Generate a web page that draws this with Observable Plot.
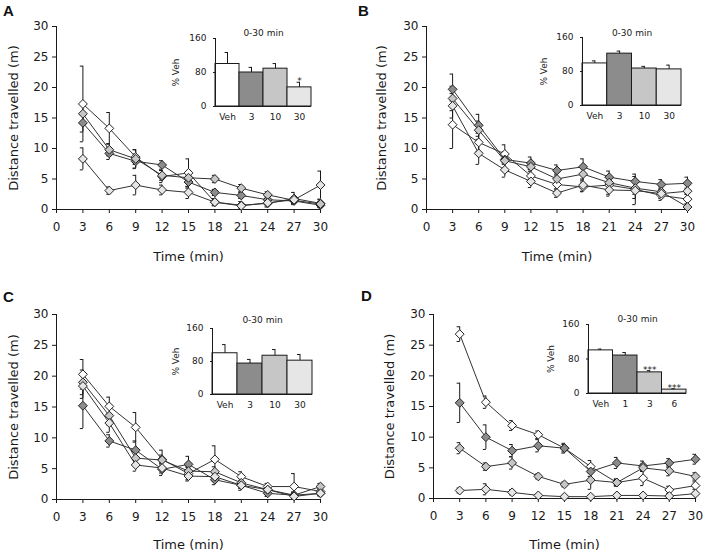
<!DOCTYPE html>
<html>
<head>
<meta charset="utf-8">
<script src="https://cdn.jsdelivr.net/npm/d3@7"></script>
<script src="https://cdn.jsdelivr.net/npm/@observablehq/plot@0.6"></script>
<style>
  body { margin: 0; background: #fff; }
  #fig { position: relative; width: 706px; height: 552px; overflow: hidden; font-family: "DejaVu Sans", sans-serif; }
  .abs { position: absolute; }
  .letter { position: absolute; font: bold 15px "Liberation Sans", Arial, sans-serif; color: #111; line-height: 1; }
</style>
</head>
<body>
<div id="fig"></div>
<script>
// ---------- data ----------
const times = [3, 6, 9, 12, 15, 18, 21, 24, 27, 30];
const xTicks = [0, 3, 6, 9, 12, 15, 18, 21, 24, 27, 30];
const yTicks = [0, 5, 10, 15, 20, 25, 30];
const insetTicks = [0, 80, 160];
const groupsABC = ["Veh", "3", "10", "30"];
const groupsD = ["Veh", "1", "3", "6"];
const shades = ["#ffffff", "#8c8c8c", "#c6c6c6", "#e6e6e6"];
const xTitle = "Time (min)";
const yTitle = "Distance travelled (m)";
const insetTitle = "0-30 min";
const insetYTitle = "% Veh";

// Panel A (series order: Veh, 3, 10, 30)
const meanA = [
  [17.3, 13.3, 8.6, 5.4, 6.0, 1.2, 0.7, 1.0, 1.8, 1.0],
  [14.2, 9.2, 7.9, 7.3, 4.5, 2.8, 2.3, 1.6, 1.4, 0.7],
  [15.7, 9.8, 8.3, 5.6, 5.2, 5.0, 3.5, 2.4, 1.5, 0.9],
  [8.3, 3.1, 4.0, 3.2, 2.8, 1.2, 0.6, 1.1, 1.6, 4.0]
];
const errA = [
  [6.2, 2.6, 1.2, 1.0, 2.3, 0.6, 0.6, 0.6, 1.0, 0.6],
  [1.5, 1.0, 1.2, 0.7, 1.0, 0.5, 0.5, 0.5, 0.4, 0.4],
  [1.5, 1.0, 1.5, 0.8, 0.8, 0.6, 0.6, 0.5, 0.5, 0.4],
  [1.8, 0.6, 1.6, 0.8, 1.0, 0.5, 0.3, 0.5, 0.5, 2.3]
];
// Panel B
const meanB = [
  [13.9, 11.0, 9.1, 5.5, 4.1, 3.7, 4.0, 3.3, 2.3, 1.7],
  [19.7, 13.8, 8.2, 7.6, 6.4, 7.0, 5.3, 4.6, 4.1, 4.3],
  [18.2, 13.0, 8.0, 7.0, 5.0, 5.8, 4.4, 3.5, 2.9, 0.4],
  [17.0, 9.2, 6.5, 4.6, 2.7, 4.0, 3.2, 3.1, 2.6, 3.0]
];
const errB = [
  [3.9, 1.5, 1.5, 1.0, 0.9, 0.8, 1.5, 1.5, 0.8, 0.8],
  [2.5, 1.8, 0.8, 1.0, 0.9, 1.3, 1.0, 1.2, 0.8, 1.0],
  [2.0, 1.5, 1.5, 0.8, 0.8, 1.0, 1.0, 1.0, 0.8, 0.5],
  [2.0, 1.8, 1.2, 1.0, 0.7, 1.0, 1.0, 2.3, 0.8, 0.5]
];
// Panel C
const meanC = [
  [20.3, 15.1, 11.7, 6.5, 4.2, 6.5, 3.7, 2.1, 2.1, 1.3],
  [15.2, 9.5, 8.0, 4.9, 5.7, 3.2, 2.3, 1.0, 0.7, 1.0],
  [19.0, 13.6, 6.7, 6.4, 4.6, 4.5, 2.7, 1.6, 0.7, 2.1],
  [18.4, 12.4, 5.6, 5.1, 3.8, 3.7, 2.3, 1.6, 0.5, 1.0]
];
const errC = [
  [2.4, 1.5, 2.4, 1.5, 1.0, 2.2, 0.8, 0.5, 2.1, 0.5],
  [3.7, 1.0, 1.5, 1.0, 1.3, 0.8, 0.8, 0.5, 0.5, 0.4],
  [2.0, 1.5, 1.0, 0.8, 0.8, 0.8, 0.8, 0.5, 0.5, 0.5],
  [2.0, 1.5, 1.0, 0.8, 0.8, 0.8, 0.5, 0.5, 0.4, 0.4]
];
// Panel D (series order: Veh, 1, 3, 6)
const meanD = [
  [26.8, 15.7, 11.9, 10.4, 8.2, 5.2, 2.6, 3.3, 1.4, 2.1],
  [15.6, 10.0, 7.8, 8.6, 8.2, 4.4, 5.8, 5.3, 5.8, 6.4],
  [8.2, 5.2, 5.8, 3.6, 2.3, 3.0, 2.6, 5.0, 4.5, 3.6],
  [1.3, 1.5, 1.0, 0.5, 0.3, 0.3, 0.5, 0.5, 0.4, 0.8]
];
const errD = [
  [1.2, 1.0, 0.8, 0.6, 0.6, 1.0, 0.6, 1.2, 0.6, 0.6],
  [3.2, 2.0, 1.0, 1.0, 0.8, 0.8, 0.9, 0.8, 0.7, 0.8],
  [0.9, 0.6, 1.0, 0.4, 0.4, 1.5, 0.5, 0.6, 0.8, 0.6],
  [0.4, 0.9, 0.4, 0.2, 0.2, 0.2, 0.2, 0.2, 0.2, 0.2]
];

// Insets: % of vehicle, 0-30 min
const barA = [100, 80, 89, 45];
const barErrA = [27, 12, 12, 12];
const starsA = ["", "", "", "*"];
const barB = [99, 122, 87, 85];
const barErrB = [6, 6, 5, 10];
const starsB = ["", "", "", ""];
const barC = [100, 75, 94, 82];
const barErrC = [21, 10, 15, 15];
const starsC = ["", "", "", ""];
const barD = [100, 88, 49, 9];
const barErrD = [3, 7, 4, 2];
const starsD = ["", "", "***", "***"];

// ---------- drawing ----------
const ink = "#1a1a1a";

function lineChart(mean, err, groups, L) {
  const rows = [];
  mean.forEach((s, k) => s.forEach((v, j) =>
    rows.push({k, g: groups[k], t: times[j], v, e: err[k][j], c: shades[k]})));
  const hi = d => d.v + d.e;
  const lo = d => Math.max(0, d.v - d.e);
  return Plot.plot({
    width: L.w, height: L.h,
    marginLeft: L.ml, marginRight: L.mr, marginTop: L.mt, marginBottom: L.mb,
    style: {fontFamily: "DejaVu Sans", fontSize: "12px", color: ink, background: "transparent", overflow: "visible"},
    x: {domain: [0, 30]},
    y: {domain: [0, 30]},
    color: {type: "identity"},
    marks: [
      Plot.axisX({ticks: xTicks, tickSize: 4, tickPadding: 9, label: null}),
      Plot.axisY({ticks: yTicks, tickSize: 4, tickPadding: 4, label: null}),
      Plot.ruleY([0], {stroke: ink}),
      Plot.ruleX([0], {stroke: ink}),
      Plot.ruleX(rows, {x: "t", y1: lo, y2: hi, stroke: ink}),
      Plot.link(rows, {x1: d => d.t - 0.35, x2: "t", y1: hi, y2: hi, stroke: ink}),
      Plot.link(rows, {x1: d => d.t - 0.35, x2: "t", y1: lo, y2: lo, stroke: ink}),
      Plot.line(rows, {x: "t", y: "v", z: "k", stroke: "#333", strokeWidth: 1}),
      Plot.dot(rows, {x: "t", y: "v", symbol: "diamond2", r: 4, fill: "c", stroke: "#222", strokeWidth: 1}),
      Plot.text([xTitle], {frameAnchor: "bottom", textAnchor: "middle", lineAnchor: "bottom", dy: L.xo, fontSize: 13, fill: ink}),
      Plot.text([yTitle], {frameAnchor: "left", textAnchor: "middle", rotate: -90, lineAnchor: "top", dx: -L.yo, fontSize: 13, fill: ink})
    ]
  });
}

function barInset(groups, vals, errs, stars, L) {
  const rows = groups.map((g, i) => ({i, g, v: vals[i], e: errs[i], s: stars[i], c: shades[i]}));
  const hi = d => d.v + d.e;
  return Plot.plot({
    width: L.w, height: L.h,
    marginLeft: L.ml, marginRight: L.mr, marginTop: L.mt, marginBottom: L.mb,
    style: {fontFamily: "DejaVu Sans", fontSize: "9px", color: ink, background: "transparent", overflow: "visible"},
    x: {domain: [0, groups.length]},
    y: {domain: [0, 160]},
    color: {type: "identity"},
    marks: [
      Plot.rectY(rows, {x1: "i", x2: d => d.i + 1, y: "v", fill: "c", stroke: ink, strokeWidth: 1}),
      Plot.ruleX(rows, {x: d => d.i + 0.5, y1: "v", y2: hi, stroke: ink}),
      Plot.link(rows, {x1: d => d.i + 0.38, x2: d => d.i + 0.5, y1: hi, y2: hi, stroke: ink}),
      Plot.text(rows.filter(d => d.s), {x: d => d.i + 0.5, y: hi, text: "s", lineAnchor: "bottom", dy: 2, fontSize: 9, fill: ink}),
      Plot.ruleX([0], {stroke: ink}),
      Plot.ruleY([0], {stroke: ink}),
      Plot.axisY({ticks: insetTicks, tickSize: 2, tickPadding: 7, label: insetYTitle, labelAnchor: "center", labelArrow: "none", labelOffset: L.lo, fontSize: 9}),
      Plot.axisX({ticks: rows.map(d => d.i + 0.5), tickFormat: (d, i) => groups[i], tickSize: 0, tickPadding: 7, label: null, fontSize: 9}),
      Plot.text([insetTitle], {frameAnchor: "top", textAnchor: "middle", lineAnchor: "middle", dy: L.td, fontSize: 9, fill: ink})
    ]
  });
}

const fig = document.getElementById("fig");
function place(node, left, top) {
  const d = document.createElement("div");
  d.className = "abs";
  d.style.left = left + "px";
  d.style.top = top + "px";
  d.appendChild(node);
  fig.appendChild(d);
}
function letter(t, left, top) {
  const d = document.createElement("div");
  d.className = "letter";
  d.textContent = t;
  d.style.left = left + "px";
  d.style.top = top + "px";
  fig.appendChild(d);
}

place(lineChart(meanA, errA, groupsABC, {w: 353, h: 276, ml: 56, mr: 33, mt: 26, mb: 67, xo: 51, yo: 48}), 0, 0);
place(lineChart(meanB, errB, groupsABC, {w: 353, h: 276, ml: 73, mr: 19, mt: 26, mb: 67, xo: 51, yo: 50}), 353, 0);
place(lineChart(meanC, errC, groupsABC, {w: 353, h: 276, ml: 56, mr: 33, mt: 38, mb: 53, xo: 49, yo: 48}), 0, 276);
place(lineChart(meanD, errD, groupsD, {w: 353, h: 276, ml: 80, mr: 11, mt: 38, mb: 54, xo: 50, yo: 49}), 353, 276);

place(barInset(groupsABC, barA, barErrA, starsA, {w: 152, h: 106, ml: 50, mr: 6, mt: 16, mb: 22, lo: 43, td: -5}), 165, 22);
place(barInset(groupsABC, barB, barErrB, starsB, {w: 155, h: 106, ml: 50, mr: 6, mt: 16, mb: 22, lo: 42, td: -4}), 532, 21);
place(barInset(groupsABC, barC, barErrC, starsC, {w: 156, h: 104, ml: 50, mr: 6, mt: 16, mb: 22, lo: 40, td: -8}), 162, 312);
place(barInset(groupsD, barD, barErrD, starsD, {w: 154, h: 107, ml: 50, mr: 6, mt: 16, mb: 22, lo: 41, td: -5}), 538, 308);

letter("A", 3, 3);
letter("B", 358, 3);
letter("C", 3, 289);
letter("D", 361, 288);
</script>
</body>
</html>
